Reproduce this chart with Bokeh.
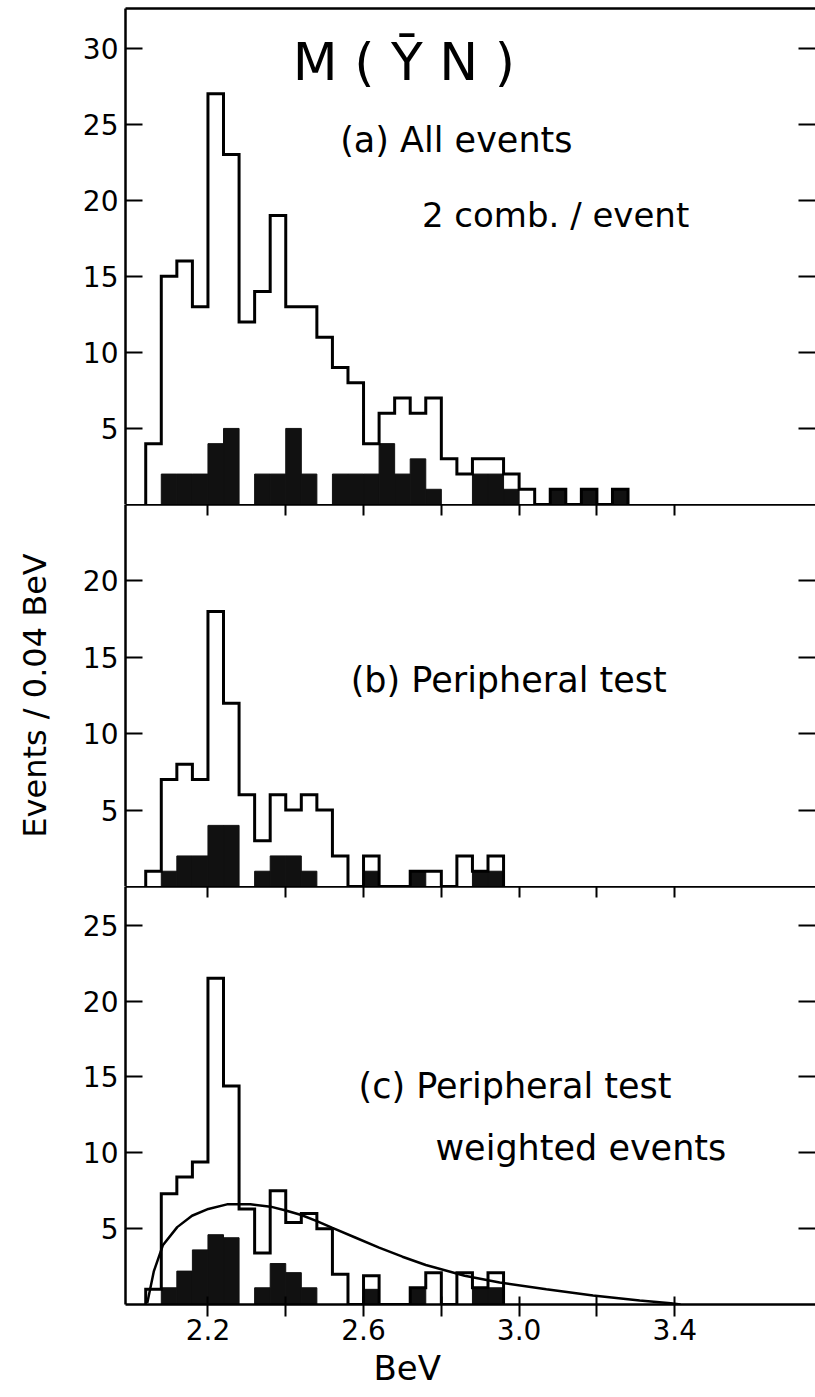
from bokeh.plotting import figure
from bokeh.layouts import column
from bokeh.models import Range1d, LinearAxis, FixedTicker, Label, Title, PrintfTickFormatter
from bokeh.embed import file_html
from bokeh.resources import INLINE

# ---------------- data ----------------
BIN_W = 0.04
first_bin = 2.04

# (a) all events, 2 combinations / event
a_all = [4, 15, 16, 13, 27, 23, 12, 14, 19, 13, 13, 11, 9, 8, 4, 6, 7, 6, 7,
         3, 2, 3, 3, 2, 1, 0, 1, 0, 1, 0, 1]
a_sel = [0, 2, 2, 2, 4, 5, 0, 2, 2, 5, 2, 0, 2, 2, 2, 4, 2, 3, 1,
         0, 0, 2, 2, 1, 0, 0, 1, 0, 1, 0, 1]

# (b) peripheral test
b_all = [1, 7, 8, 7, 18, 12, 6, 3, 6, 5, 6, 5, 2, 0, 2, 0, 0, 1, 1, 0, 2, 1, 2]
b_sel = [0, 1, 2, 2, 4, 4, 0, 1, 2, 2, 1, 0, 0, 0, 1, 0, 0, 1, 0, 0, 0, 1, 1]

# (c) peripheral test, weighted events
c_all = [1, 7.3, 8.4, 9.4, 21.5, 14.4, 6.3, 3.4, 7.5, 5.4, 6.0, 5.0, 2.0, 0,
         1.9, 0, 0, 1.1, 2.1, 0, 2.1, 1.1, 2.1]
c_sel = [0, 1.1, 2.2, 3.6, 4.6, 4.4, 0, 1.1, 2.7, 2.1, 1.1, 0, 0, 0,
         1.0, 0, 0, 1.1, 0, 0, 0, 1.1, 1.1]

# smooth curve in (c)
curve_x = [2.044, 2.061, 2.084, 2.121, 2.159, 2.201, 2.249, 2.309, 2.361,
           2.40, 2.44, 2.48, 2.52, 2.58, 2.64, 2.70, 2.76, 2.86, 2.95,
           3.07, 3.19, 3.31, 3.39, 3.415]
curve_y = [0.1, 2.2, 3.9, 5.1, 5.85, 6.3, 6.6, 6.6, 6.45,
           6.2, 5.9, 5.5, 5.05, 4.4, 3.75, 3.15, 2.6, 1.9, 1.45,
           1.0, 0.6, 0.26, 0.08, 0.0]

x_major_ticks = [2.2, 2.6, 3.0, 3.4]
x_minor_ticks = [2.4, 2.8, 3.2]
x_all_ticks = [2.2, 2.4, 2.6, 2.8, 3.0, 3.2, 3.4]
a_yticks = [5, 10, 15, 20, 25, 30]
b_yticks = [5, 10, 15, 20]
c_yticks = [5, 10, 15, 20, 25]

FONT = "DejaVu Sans"
X_START, X_END = 1.988, 3.762
xr = Range1d(X_START, X_END)


def outline_path(vals):
    xs = [first_bin]
    ys = [0]
    for i, v in enumerate(vals):
        left = first_bin + i * BIN_W
        xs += [left, left + BIN_W]
        ys += [v, v]
    xs.append(first_bin + len(vals) * BIN_W)
    ys.append(0)
    return xs, ys


def panel(frame_h, ymax, yticks, all_vals, sel_vals, top_ticks, bottom_axis,
          min_top=0, min_bottom=0):
    p = figure(width=815, frame_height=frame_h, x_range=xr,
               y_range=Range1d(0, ymax), output_backend="svg",
               toolbar_location=None, x_axis_location=None, y_axis_location=None,
               min_border_left=125, min_border_right=0,
               min_border_top=min_top, min_border_bottom=min_bottom)
    p.outline_line_color = None
    p.grid.visible = False
    p.background_fill_color = "white"
    p.border_fill_color = "white"

    # left axis with labels
    la = LinearAxis(ticker=FixedTicker(ticks=yticks))
    la.major_tick_in = 17
    la.major_tick_out = 0
    la.minor_tick_line_color = None
    la.axis_line_width = 2.5
    la.major_tick_line_width = 2
    la.major_label_text_font = FONT
    la.major_label_text_font_size = "28px"
    la.major_label_text_color = "black"
    la.major_label_standoff = 7
    p.add_layout(la, "left")

    # right side: ticks only (as minor ticks -> no labels)
    ra = LinearAxis(ticker=FixedTicker(ticks=[], minor_ticks=yticks))
    ra.minor_tick_in = 17
    ra.minor_tick_out = 0
    ra.minor_tick_line_width = 2
    ra.minor_tick_line_color = "black"
    ra.axis_line_color = None
    ra.major_tick_line_color = None
    p.add_layout(ra, "right")

    # top boundary line (with downward ticks for lower panels)
    ta = LinearAxis(ticker=FixedTicker(ticks=[], minor_ticks=x_all_ticks if top_ticks else []))
    ta.minor_tick_in = 11
    ta.minor_tick_out = 0
    ta.minor_tick_line_width = 2
    ta.minor_tick_line_color = "black"
    ta.major_tick_line_color = None
    ta.axis_line_width = 2.5
    p.add_layout(ta, "above")

    if bottom_axis:
        ba = LinearAxis(ticker=FixedTicker(ticks=x_major_ticks, minor_ticks=x_minor_ticks),
                        formatter=PrintfTickFormatter(format="%.1f"))
        ba.major_tick_in = 8
        ba.major_tick_out = 12
        ba.minor_tick_in = 8
        ba.minor_tick_out = 12
        ba.minor_tick_line_width = 2
        ba.minor_tick_line_color = "black"
        ba.axis_line_width = 2.5
        ba.major_tick_line_width = 2
        ba.major_label_text_font = FONT
        ba.major_label_text_font_size = "28px"
        ba.major_label_text_color = "black"
        ba.major_label_standoff = 2
        p.add_layout(ba, "below")

    lefts = [first_bin + i * BIN_W for i in range(len(sel_vals))]
    rights = [l + BIN_W for l in lefts]
    p.quad(left=lefts, right=rights, bottom=0, top=sel_vals,
           fill_color="#111111", line_color="#111111", line_width=1)
    xs, ys = outline_path(all_vals)
    p.line(xs, ys, line_color="black", line_width=3, line_join="miter")
    return p


pa = panel(496, 32.6, a_yticks, a_all, a_sel, False, False, min_top=8)
pb = panel(382, 25.0, b_yticks, b_all, b_sel, True, False)
pc = panel(418, 27.55, c_yticks, c_all, c_sel, True, True, min_bottom=88)

pc.line(curve_x, curve_y, line_color="black", line_width=2.5)

yax = pb.left[0]
yax.axis_label = "Events / 0.04 BeV"
yax.axis_label_text_font = FONT
yax.axis_label_text_font_size = "32px"
yax.axis_label_text_font_style = "normal"
yax.axis_label_text_color = "black"
yax.axis_label_standoff = 26

pc.add_layout(Title(text="BeV", align="left", offset=248,
                    text_font=FONT, text_font_size="34px",
                    text_font_style="normal", text_color="black",
                    standoff=6), "below")


def add_text(p, x, y, txt, size):
    p.add_layout(Label(x=x, y=y, text=txt, text_font=FONT,
                       text_font_size=size, text_align="left",
                       text_baseline="middle", text_color="black"))


add_text(pa, 2.418, 29.1, "M ( Ȳ N )", "52px")
add_text(pa, 2.54, 23.95, "(a)  All  events", "35px")
add_text(pa, 2.75, 19.0, "2 comb. / event", "34px")
add_text(pb, 2.567, 13.5, "(b)  Peripheral  test", "35px")
add_text(pc, 2.587, 14.4, "(c)  Peripheral  test", "35px")
add_text(pc, 2.785, 10.3, "weighted  events", "35px")

layout = column(pa, pb, pc, spacing=0)
open("out.html", "w").write(file_html(layout, INLINE))
